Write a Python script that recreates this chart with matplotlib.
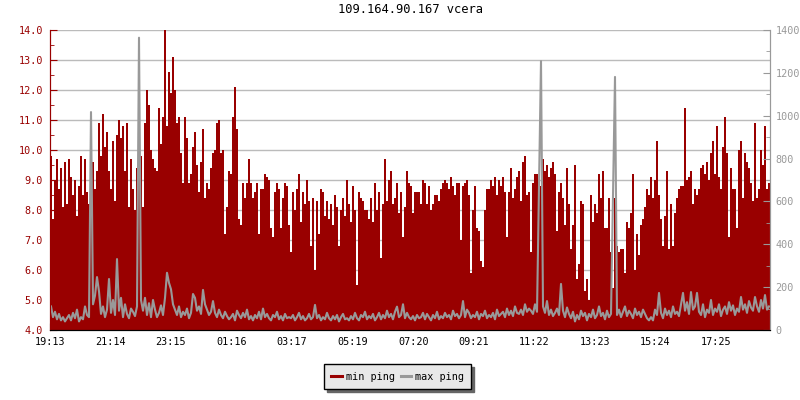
# min / max ping over one day, bars (min) + line (max, right axis)

import numpy as np
import matplotlib.pyplot as plt

# Data: one value every 4 minutes starting at 19:13
title = '109.164.90.167 vcera'
step_min = 4
tick_labels = ['19:13', '21:14', '23:15', '01:16', '03:17', '05:19',
               '07:20', '09:21', '11:22', '13:23', '15:24', '17:25']

min_ping = [
    # 19:13 - 23:13
    9.8, 7.7, 9.0, 9.7, 8.7, 9.4, 8.1, 9.6, 8.2, 9.7,
    9.1, 8.5, 9.0, 7.8, 8.8, 9.8, 8.5, 9.7, 8.6, 8.2,
    10.4, 9.6, 8.7, 9.3, 10.9, 9.8, 11.2, 10.1, 10.6, 9.3,
    8.7, 10.3, 8.3, 10.5, 11.0, 10.4, 10.8, 9.3, 10.9, 8.1,
    9.7, 8.7, 8.0, 9.4, 9.2, 9.8, 8.1, 10.9, 12.0, 11.5,
    10.0, 9.7, 9.4, 9.3, 11.4, 10.2, 11.1, 14.0, 10.8, 12.6,
    # 23:13 - 03:13
    11.9, 13.1, 12.0, 10.9, 11.1, 9.9, 8.9, 11.1, 10.4, 8.9,
    9.2, 10.1, 10.6, 9.5, 8.6, 9.6, 10.7, 8.4, 8.9, 8.7,
    9.4, 9.9, 10.0, 10.9, 11.0, 9.9, 10.0, 7.2, 8.1, 9.3,
    9.2, 11.1, 12.1, 10.7, 7.7, 7.5, 8.9, 8.4, 8.9, 9.7,
    8.9, 8.4, 8.6, 8.9, 7.2, 8.7, 8.7, 9.2, 9.1, 9.0,
    7.4, 7.1, 8.6, 8.9, 8.7, 7.4, 8.4, 8.9, 8.8, 7.5,
    # 03:13 - 07:13
    6.6, 8.6, 8.0, 8.7, 9.2, 7.6, 8.6, 8.2, 9.0, 8.3,
    6.8, 8.4, 6.0, 8.3, 7.2, 8.7, 8.6, 7.8, 8.3, 7.7,
    8.2, 7.5, 8.5, 8.1, 6.8, 8.0, 8.4, 7.8, 9.0, 8.2,
    7.6, 8.8, 8.0, 5.5, 8.6, 8.4, 8.3, 8.0, 8.0, 7.7,
    8.4, 7.6, 8.9, 8.0, 8.6, 6.4, 8.2, 9.7, 8.3, 9.0,
    9.3, 8.2, 8.4, 8.9, 7.9, 8.6, 7.1, 8.1, 9.3, 8.9,
    # 07:13 - 11:13
    8.8, 7.9, 8.6, 8.6, 8.6, 8.2, 9.0, 8.9, 8.2, 8.8,
    8.0, 8.2, 8.5, 8.5, 8.3, 8.7, 8.9, 9.0, 8.9, 8.7,
    9.1, 8.8, 8.5, 8.9, 8.9, 7.0, 8.8, 8.9, 9.0, 8.5,
    5.9, 8.0, 8.8, 7.4, 7.3, 6.3, 6.1, 8.0, 8.7, 8.7,
    9.0, 8.8, 9.1, 8.5, 9.0, 8.8, 9.1, 8.6, 7.1, 8.6,
    9.4, 8.4, 8.7, 9.1, 9.3, 8.3, 9.6, 9.8, 8.5, 8.6,
    # 11:13 - 15:13
    6.6, 8.9, 9.2, 9.2, 8.9, 8.8, 9.7, 9.3, 9.5, 9.1,
    9.4, 9.6, 9.2, 7.3, 8.6, 8.9, 8.4, 7.5, 9.4, 8.2,
    6.7, 7.5, 9.5, 5.7, 6.2, 8.3, 8.2, 5.3, 5.7, 5.0,
    8.5, 7.6, 8.2, 7.9, 9.2, 8.4, 9.3, 7.4, 7.4, 8.4,
    6.6, 5.4, 8.4, 6.8, 6.6, 6.7, 6.7, 5.9, 7.6, 7.4,
    7.9, 9.2, 6.0, 7.2, 6.5, 7.5, 7.7, 8.1, 8.7, 8.5,
    # 15:13 - 19:13
    9.1, 8.4, 9.0, 10.3, 8.5, 7.7, 6.8, 7.8, 9.3, 6.7,
    8.2, 6.8, 7.9, 8.4, 8.7, 8.8, 8.8, 11.4, 9.0, 9.1,
    9.3, 8.2, 8.7, 8.5, 8.7, 9.4, 9.5, 9.2, 9.6, 9.0,
    9.9, 10.3, 9.2, 10.8, 9.1, 8.7, 10.1, 11.1, 9.9, 7.1,
    9.4, 8.7, 8.7, 7.4, 10.0, 10.3, 8.4, 9.9, 9.6, 9.4,
    8.9, 8.3, 10.9, 8.4, 8.7, 10.0, 9.5, 10.8, 8.7, 8.9,
]

max_ping = [
    110, 60, 85, 50, 75, 45, 60, 40, 55, 70,
    45, 80, 55, 95, 40, 60, 50, 110, 70, 60,
    1017, 120, 160, 247, 180, 75, 110, 60, 95, 238,
    80, 140, 70, 331, 90, 150, 60, 120, 75, 55,
    100, 85, 65, 110, 1364, 140, 90, 150, 70, 125,
    60, 140, 95, 60, 80, 115, 70, 150, 267, 220,

    190, 120, 95, 70, 110, 60, 85, 70, 100, 55,
    80, 168, 150, 90, 110, 75, 187, 120, 95, 70,
    85, 135, 80, 60, 95, 70, 55, 85, 65, 50,
    60, 75, 45, 90, 70, 55, 80, 60, 95, 50,
    65, 45, 70, 55, 85, 50, 100, 60, 75, 55,
    45, 70, 60, 85, 50, 65, 45, 75, 55, 60,

    55, 70, 45, 60, 80, 50, 65, 45, 55, 75,
    50, 60, 117, 55, 70, 45, 60, 50, 80, 55,
    45, 65, 50, 70, 40, 60, 75, 50, 55, 45,
    65, 50, 80, 55, 45, 70, 60, 85, 50, 65,
    55, 75, 45, 60, 80, 50, 70, 55, 90, 60,
    75, 50, 85, 109, 60, 70, 120, 55, 80, 60,

    50, 65, 45, 70, 55, 60, 80, 50, 75, 60,
    45, 70, 55, 85, 50, 65, 55, 80, 60, 70,
    50, 90, 65, 75, 55, 70, 135, 60, 95, 80,
    55, 70, 60, 85, 50, 75, 65, 90, 55, 70,
    60, 80, 50, 95, 65, 75, 85, 60, 100, 70,
    90, 65, 110, 80, 75, 95, 70, 120, 85, 100,

    90, 75, 120, 85, 660, 1255, 110, 80, 135, 70,
    95, 65, 80, 100, 70, 215, 90, 60, 105, 75,
    55, 85, 40, 70, 50, 90, 65, 80, 45, 75,
    60, 95, 55, 70, 110, 65, 80, 50, 90, 60,
    75, 620, 1181, 70, 95, 60, 85, 110, 65, 90,
    75, 55, 100, 70, 85, 60, 95, 75, 55, 45,

    60, 45, 95, 70, 173, 80, 55, 100, 70, 90,
    60, 110, 75, 85, 65, 120, 173, 90, 130, 75,
    177, 95, 110, 173, 85, 70, 120, 60, 95, 80,
    140, 70, 100, 85, 120, 65, 95, 110, 75, 130,
    90, 115, 70, 100, 85, 154, 95, 120, 80, 135,
    105, 90, 154, 110, 85, 140, 100, 163, 95, 110,
]

RED = '#990000'
GRAY = '#999999'
plt.rcParams['font.family'] = 'DejaVu Sans Mono'
plt.rcParams['font.size'] = 7.3

edges = np.arange(len(min_ping) + 1) * step_min
centers = edges[:-1] + step_min / 2

# minutes after start for each tick label
def minutes(lbl):
    h, m = map(int, lbl.split(':'))
    return h * 60 + m
t0 = minutes(tick_labels[0])
tick_pos = [(minutes(l) - t0) % 1440 for l in tick_labels]

fig = plt.figure(figsize=(8, 4), dpi=100)
ax = fig.add_axes([0.0625, 0.175, 0.9, 0.75])
ax2 = ax.twinx()

ax.stairs(min_ping, edges, fill=True, baseline=0, color=RED, lw=0)
ax2.plot(centers, max_ping, color=GRAY, lw=1.5)

ax.set_xlim(0, edges[-1])
ax.set_ylim(4, 14)
ax2.set_ylim(0, 1400)

ax.set_yticks(np.arange(4, 14.1, 1))
ax.set_yticks(np.arange(4, 14.1, 0.5), minor=True)
ax.set_yticklabels(['%.1f' % v for v in np.arange(4, 14.1, 1)])
ax2.set_yticks(np.arange(0, 1401, 200))
ax2.set_yticks(np.arange(0, 1401, 100), minor=True)
ax.set_xticks(tick_pos)
ax.set_xticklabels(tick_labels)

ax.grid(axis='y', color='#bbbbbb', lw=1)
ax.set_axisbelow(True)

ax.tick_params(axis='y', which='both', direction='in', colors=RED, labelcolor=RED, pad=5)
ax.tick_params(axis='y', which='major', length=5)
ax.tick_params(axis='y', which='minor', length=3)
ax.tick_params(axis='x', direction='in', length=5, color='black', pad=5)
ax2.tick_params(axis='y', which='both', direction='in', colors=GRAY, labelcolor=GRAY, pad=4)
ax2.tick_params(axis='y', which='major', length=5)
ax2.tick_params(axis='y', which='minor', length=3)

for a in (ax, ax2):
    a.spines['top'].set_visible(False)
    a.spines['left'].set_color(RED)
    a.spines['right'].set_color(GRAY)
    a.spines['bottom'].set_color('black')

ax.set_title(title, pad=12)

h1 = plt.Line2D([], [], color=RED, lw=2.2)
h2 = plt.Line2D([], [], color=GRAY, lw=2.2)
fig.legend([h1, h2], ['min ping', 'max ping'], ncol=2, loc='upper center',
           bbox_to_anchor=(0.497, 0.1025), frameon=True, fancybox=False,
           shadow={'color': '#666666', 'alpha': 1}, facecolor='#e8e8e8',
           edgecolor='black', framealpha=1, handlelength=1.0, handletextpad=0.4,
           columnspacing=0.6, borderpad=0.75)

fig.savefig('out.png', dpi=100)
